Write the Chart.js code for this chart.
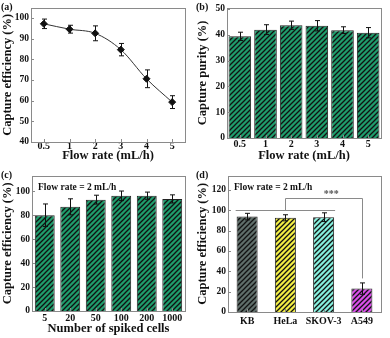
<!DOCTYPE html>
<html>
<head>
<meta charset="utf-8">
<script src="https://cdn.jsdelivr.net/npm/chart.js@4.4.1/dist/chart.umd.min.js"></script>
<style>
  body { margin: 0; background: #fff; }
  #wrap { position: relative; width: 390px; height: 338px; }
  .panel { position: absolute; }
</style>
</head>
<body>
<div id="wrap">
  <div class="panel" style="left:0;top:0;width:195px;height:168px"><canvas id="chartA"></canvas></div>
  <div class="panel" style="left:195px;top:0;width:195px;height:168px"><canvas id="chartB"></canvas></div>
  <div class="panel" style="left:0;top:168px;width:195px;height:170px"><canvas id="chartC"></canvas></div>
  <div class="panel" style="left:195px;top:168px;width:195px;height:170px"><canvas id="chartD"></canvas></div>
</div>
<script>
// data
const flowRates = ['0.5', '1', '2', '3', '4', '5'];
const effA = [97.2, 94.6, 92.6, 84.7, 70.6, 59.3];
const effAErr = [2.3, 1.9, 3.6, 3.0, 4.3, 3.1];

const purityB = [39.4, 42.0, 43.7, 43.5, 41.8, 40.8];
const purityBErr = [1.6, 1.9, 1.6, 2.0, 1.3, 2.0];

const spikedCells = ['5', '20', '50', '100', '200', '1000'];
const effC = [80.0, 87.0, 93.0, 96.2, 96.3, 93.6];
const effCErr = [9.4, 6.7, 3.7, 4.0, 3.0, 3.4];

const cellLines = ['KB', 'HeLa', 'SKOV-3', 'A549'];
const effD = [93.8, 92.6, 93.2, 23.0];
const effDErr = [3.2, 3.0, 4.3, 5.6];
const colorsD = ['#5f6e6a', '#f2ee44', '#86f0de', '#d84ee8'];

// significance bracket in (d): base level, top level, end above A549
const bracketLevels = [100, 112, 33];

const serif = '"Liberation Serif", "Times New Roman", serif';
const frameColor = '#8a8a8a';

function hatch(color) {
    const s = 5;
    const c = document.createElement('canvas');
    c.width = s; c.height = s;
    const g = c.getContext('2d');
    g.fillStyle = color;
    g.fillRect(0, 0, s, s);
    g.strokeStyle = '#111';
    g.lineWidth = 1.3;
    g.beginPath();
    g.moveTo(0, s); g.lineTo(s, 0);
    g.moveTo(-1, 1); g.lineTo(1, -1);
    g.moveTo(s - 1, s + 1); g.lineTo(s + 1, s - 1);
    g.stroke();
    return g.createPattern(c, 'repeat');
}

// error bars drawn through the scales
const errorBars = {
    id: 'errorBars',
    afterDatasetsDraw(chart) {
        const ctx = chart.ctx;
        const y = chart.scales.y;
        chart.data.datasets.forEach((ds, i) => {
            if (!ds.errors) return;
            const meta = chart.getDatasetMeta(i);
            ctx.save();
            ctx.strokeStyle = '#111';
            ctx.lineWidth = 1;
            meta.data.forEach((el, j) => {
                const x = Math.round(el.x) + 0.5;
                const top = y.getPixelForValue(ds.data[j] + ds.errors[j]);
                const bot = y.getPixelForValue(ds.data[j] - ds.errors[j]);
                ctx.beginPath();
                ctx.moveTo(x, top); ctx.lineTo(x, bot);
                ctx.moveTo(x - 2.5, top); ctx.lineTo(x + 2.5, top);
                ctx.moveTo(x - 2.5, bot); ctx.lineTo(x + 2.5, bot);
                ctx.stroke();
            });
            ctx.restore();
        });
    }
};

// box frame with inward ticks, panel letter, note text
const frame = {
    id: 'frame',
    afterDraw(chart, args, opts) {
        const ctx = chart.ctx;
        const a = chart.chartArea;
        ctx.save();
        ctx.strokeStyle = frameColor;
        ctx.lineWidth = 1;
        ctx.strokeRect(Math.round(a.left) + 0.5, Math.round(a.top) + 0.5,
            Math.round(a.right - a.left), Math.round(a.bottom - a.top));
        ctx.beginPath();
        chart.scales.y.ticks.forEach(t => {
            const py = Math.round(chart.scales.y.getPixelForValue(t.value)) + 0.5;
            ctx.moveTo(a.left, py); ctx.lineTo(a.left + 3, py);
        });
        chart.scales.x.ticks.forEach((t, i) => {
            const px = Math.round(chart.scales.x.getPixelForTick(i)) + 0.5;
            ctx.moveTo(px, a.bottom); ctx.lineTo(px, a.bottom - 3);
        });
        ctx.stroke();
        ctx.fillStyle = '#111';
        ctx.font = 'bold 10px ' + serif;
        ctx.textBaseline = 'middle';
        ctx.fillText(opts.letter, 1, 7);
        if (opts.note) {
            ctx.font = 'bold 9.5px ' + serif;
            ctx.fillText(opts.note, a.left + 6, a.top + 12);
        }
        ctx.restore();
    }
};

// bracket and stars for (d)
const bracket = {
    id: 'bracket',
    afterDatasetsDraw(chart) {
        if (chart.canvas.id !== 'chartD') return;
        const ctx = chart.ctx;
        const x = chart.scales.x, y = chart.scales.y;
        const base = Math.round(y.getPixelForValue(bracketLevels[0])) + 0.5;
        const high = Math.round(y.getPixelForValue(bracketLevels[1])) + 0.5;
        const end = y.getPixelForValue(bracketLevels[2]);
        const mid = Math.round(x.getPixelForValue(1)) + 0.5;
        const right = Math.round(x.getPixelForValue(3)) + 0.5;
        ctx.save();
        ctx.strokeStyle = frameColor;
        ctx.lineWidth = 1;
        ctx.beginPath();
        ctx.moveTo(x.getPixelForValue(-0.3), base);
        ctx.lineTo(x.getPixelForValue(2.3), base);
        ctx.moveTo(mid, base); ctx.lineTo(mid, high);
        ctx.lineTo(right, high); ctx.lineTo(right, end);
        ctx.stroke();
        ctx.fillStyle = '#555';
        ctx.font = 'bold 10px ' + serif;
        ctx.textAlign = 'center';
        ctx.fillText('***', x.getPixelForValue(2.2), high - 2);
        ctx.restore();
    }
};

function axes(o) {
    return {
        x: {
            type: 'category',
            offset: true,
            grid: { display: false, drawTicks: false },
            border: { display: false },
            ticks: { color: '#111', font: { family: serif, weight: 'bold', size: 10 }, padding: o.tickPad,
                maxRotation: 0, autoSkip: false },
            title: {
                display: !!o.xTitle, text: o.xTitle, color: '#111',
                font: { family: serif, weight: 'bold', size: 12.5 }, padding: { top: 0, bottom: o.titleBottom }
            },
            afterFit: s => { s.height = o.xHeight; }
        },
        y: {
            min: o.min, max: o.max,
            grid: { display: false, drawTicks: false },
            border: { display: false },
            ticks: { stepSize: o.step, includeBounds: false, color: '#111',
                font: { family: serif, weight: 'bold', size: 9.5 }, padding: 2 },
            title: {
                display: true, text: o.yTitle, color: '#111',
                font: { family: serif, weight: 'bold', size: 12.5 }, padding: 0
            },
            afterFit: s => { s.width = o.yWidth; }
        }
    };
}

function baseOptions(o) {
    return {
        responsive: true,
        maintainAspectRatio: false,
        animation: false,
        layout: { padding: { top: 3, right: o.right, left: 0, bottom: 0 } },
        plugins: {
            legend: { display: false },
            tooltip: { enabled: false },
            frame: { letter: o.letter, note: o.note }
        },
        scales: axes(o)
    };
}

Chart.register(errorBars, frame, bracket);

new Chart(document.getElementById('chartA'), {
    type: 'line',
    data: {
        labels: flowRates,
        datasets: [{
            data: effA,
            errors: effAErr,
            borderColor: '#333',
            borderWidth: 1,
            tension: 0.4,
            cubicInterpolationMode: 'monotone',
            pointStyle: 'rectRot',
            pointRadius: 3.5,
            pointBackgroundColor: '#111',
            pointBorderColor: '#111'
        }]
    },
    options: baseOptions({ letter: '(a)', min: 40, max: 105, step: 10, yTitle: 'Capture efficiency (%)',
        xTitle: 'Flow rate (mL/h)', xHeight: 26, tickPad: -2, titleBottom: 5, yWidth: 31, right: 10 })
});

new Chart(document.getElementById('chartB'), {
    type: 'bar',
    data: {
        labels: flowRates,
        datasets: [{
            data: purityB,
            errors: purityBErr,
            backgroundColor: hatch('#1f9c6c'),
            borderColor: '#222',
            borderWidth: 1,
            barPercentage: 0.88,
            categoryPercentage: 1
        }]
    },
    options: baseOptions({ letter: '(b)', min: 0, max: 50.5, step: 10, yTitle: 'Capture purity (%)',
        xTitle: 'Flow rate (mL/h)', xHeight: 30, tickPad: 0, titleBottom: 5, yWidth: 32, right: 9 })
});

new Chart(document.getElementById('chartC'), {
    type: 'bar',
    data: {
        labels: spikedCells,
        datasets: [{
            data: effC,
            errors: effCErr,
            backgroundColor: hatch('#1f9c6c'),
            borderColor: '#222',
            borderWidth: 1,
            barPercentage: 0.78,
            categoryPercentage: 1
        }]
    },
    options: baseOptions({ letter: '(c)', min: 0, max: 113, step: 20, yTitle: 'Capture efficiency (%)',
        xTitle: 'Number of spiked cells', xHeight: 27, tickPad: 1, titleBottom: 2, yWidth: 32, right: 10,
        note: 'Flow rate = 2 mL/h' })
});

new Chart(document.getElementById('chartD'), {
    type: 'bar',
    data: {
        labels: cellLines,
        datasets: [{
            data: effD,
            errors: effDErr,
            backgroundColor: colorsD.map(hatch),
            borderColor: '#222',
            borderWidth: 1,
            barPercentage: 0.55,
            categoryPercentage: 1
        }]
    },
    options: baseOptions({ letter: '(d)', min: 0, max: 134, step: 20, yTitle: 'Capture efficiency (%)',
        xTitle: '', xHeight: 26, tickPad: 3, titleBottom: 0, yWidth: 33, right: 9, note: 'Flow rate = 2 mL/h' })
});
</script>
</body>
</html>
